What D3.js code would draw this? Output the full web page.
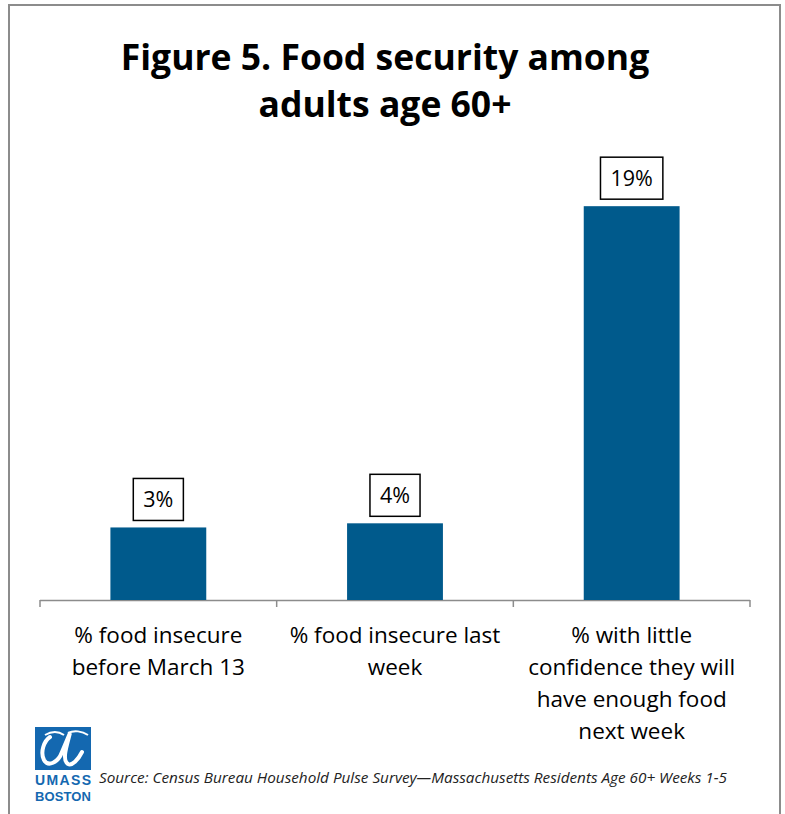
<!DOCTYPE html>
<html><head><meta charset="utf-8">
<script src="https://cdn.jsdelivr.net/npm/d3@7"></script>
<style>body{margin:0;background:#fff}svg{display:block}</style>
</head><body>
<script>
const categories = [
  ["% food insecure", "before March 13"],
  ["% food insecure last", "week"],
  ["% with little", "confidence they will", "have enough food", "next week"]
];
const values = [3.5, 3.7, 19.0];
const valueLabels = ["3%", "4%", "19%"];
const titleLines = ["Figure 5. Food security among", "adults age 60+"];
const sourceText = "Source: Census Bureau Household Pulse Survey\u2014Massachusetts Residents Age 60+ Weeks 1-5";

const W = 785, H = 814;
const svg = d3.select("body").append("svg").attr("width", W).attr("height", H);
svg.append("rect").attr("width", W).attr("height", H).attr("fill", "#fff");
// outer frame
svg.append("path").attr("d", `M9,${H} V5 H780 V${H}`).attr("fill", "none")
  .attr("stroke", "#8c8c8c").attr("stroke-width", 2);

const font = "'Open Sans', 'Liberation Sans', sans-serif";
svg.append("g").selectAll("text").data(titleLines).join("text")
  .attr("x", 385).attr("y", (d, i) => 70 + i * 47)
  .attr("text-anchor", "middle").attr("font-family", font)
  .attr("font-weight", "bold").attr("font-size", 35.5).attr("fill", "#000")
  .text(d => d);

const x = d3.scaleBand().domain(d3.range(categories.length)).range([40, 750]).paddingInner(0.595).paddingOuter(0.2975);
const y = d3.scaleLinear().domain([0, 22]).range([600, 144]);

const xAxis = d3.scaleBand().domain(d3.range(categories.length)).range([40, 750]);
// axis line and ticks
const ax = svg.append("g");
ax.append("line").attr("x1", 40).attr("x2", 750).attr("y1", 600.5).attr("y2", 600.5)
  .attr("stroke", "#8c8c8c").attr("stroke-width", 1.5);
const tickXs = [40].concat(categories.map((d, i) => xAxis(i) + xAxis.bandwidth()));
ax.selectAll("line.t").data(tickXs).join("line").attr("class", "t")
  .attr("x1", d => d).attr("x2", d => d).attr("y1", 600).attr("y2", 607)
  .attr("stroke", "#8c8c8c").attr("stroke-width", 1.5);

svg.append("g").selectAll("rect").data(values).join("rect")
  .attr("x", (d, i) => x(i)).attr("width", x.bandwidth())
  .attr("y", d => y(d)).attr("height", d => y(0) - y(d))
  .attr("fill", "#005a8c");

// value labels in boxes
const lab = svg.append("g").selectAll("g").data(values).join("g");
lab.each(function(d, i) {
  const g = d3.select(this);
  const cx = x(i) + x.bandwidth() / 2;
  const t = g.append("text").attr("x", cx).attr("y", y(d) - 20)
    .attr("text-anchor", "middle").attr("font-family", font)
    .attr("font-size", 21.5).attr("fill", "#000").text(valueLabels[i]);
  const w = t.node().getComputedTextLength() + 20;
  g.insert("rect", "text").attr("x", cx - w / 2).attr("y", y(d) - 49)
    .attr("width", w).attr("height", 42).attr("fill", "#fff")
    .attr("stroke", "#000").attr("stroke-width", 1.5);
});

// category labels
svg.append("g").selectAll("text").data(categories).join("text")
  .attr("text-anchor", "middle").attr("font-family", font)
  .attr("font-size", 22.5).attr("fill", "#000")
  .each(function(d, i) {
    d3.select(this).selectAll("tspan").data(d).join("tspan")
      .attr("x", xAxis(i) + xAxis.bandwidth() / 2)
      .attr("y", (s, j) => 643 + j * 32).text(s => s);
  });

// logo
const logo = svg.append("g");
logo.append("rect").attr("x", 35).attr("y", 727).attr("width", 56).attr("height", 43).attr("fill", "#1468b0");
logo.append("path")
  .attr("d", "M50,737 C44,741 40,752 44,760 C48,767 58,763 62,752 L70,733 C66,748 62,760 68,764 C72,766 78,760 82,752")
  .attr("fill", "none").attr("stroke", "#fff").attr("stroke-width", 4).attr("stroke-linecap", "round");
logo.append("path")
  .attr("d", "M45,735 C52,731 58,731 64,735 M68,733 C74,730 82,731 88,735")
  .attr("fill", "none").attr("stroke", "#fff").attr("stroke-width", 2);
logo.append("text").attr("x", 63).attr("y", 785).attr("text-anchor", "middle")
  .attr("font-family", "'Liberation Sans', sans-serif").attr("font-weight", "bold")
  .attr("font-size", 14).attr("fill", "#1468b0").attr("textLength", 56).text("UMASS");
logo.append("text").attr("x", 63).attr("y", 801).attr("text-anchor", "middle")
  .attr("font-family", "'Liberation Sans', sans-serif").attr("font-weight", "bold")
  .attr("font-size", 13).attr("fill", "#1468b0").attr("textLength", 56).text("BOSTON");

svg.append("text").attr("x", 99).attr("y", 783)
  .attr("font-family", font).attr("font-style", "italic")
  .attr("font-size", 14).attr("fill", "#222").attr("textLength", 628)
  .attr("lengthAdjust", "spacingAndGlyphs").text(sourceText);
</script>
</body></html>
